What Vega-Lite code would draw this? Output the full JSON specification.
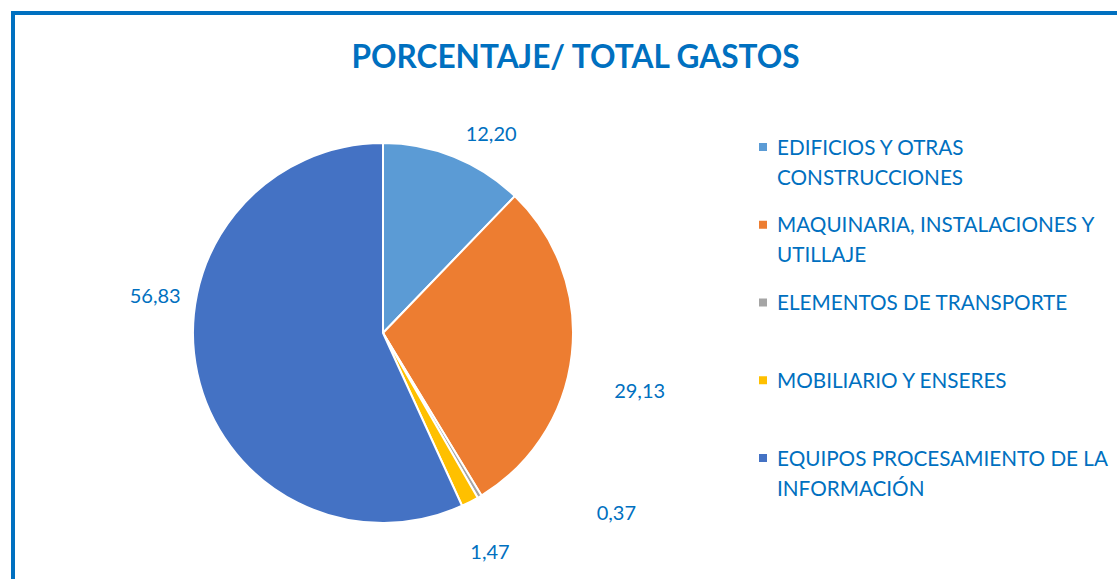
{
  "$schema": "https://vega.github.io/schema/vega-lite/v6.json",
  "autosize": {"type": "fit", "contains": "padding"},
  "width": 1117,
  "height": 579,
  "padding": {"left": 11, "top": 11, "right": 0, "bottom": 0},
  "background": "white",
  "title": {
    "text": "PORCENTAJE/ TOTAL GASTOS",
    "anchor": "middle",
    "dx": 11.5,
    "offset": -89,
    "baseline": "alphabetic",
    "font": "Lato",
    "fontSize": 31.6,
    "fontWeight": "bold",
    "color": "#0070C0"
  },
  "data": {
    "values": [
      {"orden": 1, "categoria": "EDIFICIOS Y OTRAS CONSTRUCCIONES", "etiqueta": "EDIFICIOS Y OTRAS\nCONSTRUCCIONES", "pct": 12.20},
      {"orden": 2, "categoria": "MAQUINARIA, INSTALACIONES Y UTILLAJE", "etiqueta": "MAQUINARIA, INSTALACIONES Y\nUTILLAJE", "pct": 29.13},
      {"orden": 3, "categoria": "ELEMENTOS DE TRANSPORTE", "etiqueta": "ELEMENTOS DE TRANSPORTE", "pct": 0.37},
      {"orden": 4, "categoria": "MOBILIARIO Y ENSERES", "etiqueta": "MOBILIARIO Y ENSERES", "pct": 1.47},
      {"orden": 5, "categoria": "EQUIPOS PROCESAMIENTO DE LA INFORMACIÓN", "etiqueta": "EQUIPOS PROCESAMIENTO DE LA\nINFORMACIÓN", "pct": 56.83}
    ]
  },
  "layer": [
    {
      "mark": {"type": "rect", "x": 2, "y": 2, "x2": 1150, "y2": 620, "clip": true, "filled": false, "stroke": "#0070C0", "strokeWidth": 3.5},
      "encoding": {}
    },
    {
      "mark": {"type": "arc", "outerRadius": 190, "x": 372, "y": 322, "stroke": "white", "strokeWidth": 2},
      "encoding": {
        "theta": {"field": "pct", "type": "quantitative", "stack": true},
        "order": {"field": "orden", "type": "quantitative", "sort": "ascending"},
        "color": {
          "field": "categoria",
          "type": "nominal",
          "scale": {
            "domain": ["EDIFICIOS Y OTRAS CONSTRUCCIONES", "MAQUINARIA, INSTALACIONES Y UTILLAJE", "ELEMENTOS DE TRANSPORTE", "MOBILIARIO Y ENSERES", "EQUIPOS PROCESAMIENTO DE LA INFORMACIÓN"],
            "range": ["#5B9BD5", "#ED7D31", "#A5A5A5", "#FFC000", "#4472C4"]
          },
          "legend": null
        }
      }
    },
    {
      "mark": {"type": "square", "size": 64, "filled": true, "opacity": 1, "x": 752},
      "encoding": {
        "y": {
          "field": "categoria",
          "type": "nominal",
          "scale": {
            "type": "point",
            "padding": 0,
            "domain": ["EDIFICIOS Y OTRAS CONSTRUCCIONES", "MAQUINARIA, INSTALACIONES Y UTILLAJE", "ELEMENTOS DE TRANSPORTE", "MOBILIARIO Y ENSERES", "EQUIPOS PROCESAMIENTO DE LA INFORMACIÓN"],
            "range": [136, 447]
          },
          "axis": null
        },
        "color": {"field": "categoria", "type": "nominal", "legend": null}
      }
    },
    {
      "mark": {"type": "text", "x": 766, "align": "left", "baseline": "alphabetic", "dy": 7.5, "lineBreak": "\n", "lineHeight": 30, "font": "Lato", "fontSize": 20.7, "color": "#0070C0"},
      "encoding": {
        "y": {"field": "categoria", "type": "nominal", "axis": null},
        "text": {"field": "etiqueta", "type": "nominal"}
      }
    },
    {
      "mark": {"type": "text", "radius": 225, "x": 372, "y": 322, "dx": 24, "dy": 11, "font": "Lato", "fontSize": 20, "color": "#0070C0"},
      "encoding": {
        "theta": {"field": "pct", "type": "quantitative", "stack": true},
        "order": {"field": "orden", "type": "quantitative", "sort": "ascending"},
        "text": {"condition": {"test": "datum.orden == 1", "field": "pct", "type": "quantitative", "format": ".2f"}, "value": ""}
      }
    },
    {
      "mark": {"type": "text", "radius": 225, "x": 372, "y": 322, "dx": 33, "dy": 34, "font": "Lato", "fontSize": 20, "color": "#0070C0"},
      "encoding": {
        "theta": {"field": "pct", "type": "quantitative", "stack": true},
        "order": {"field": "orden", "type": "quantitative", "sort": "ascending"},
        "text": {"condition": {"test": "datum.orden == 2", "field": "pct", "type": "quantitative", "format": ".2f"}, "value": ""}
      }
    },
    {
      "mark": {"type": "text", "radius": 225, "x": 372, "y": 322, "dx": 119, "dy": -13, "font": "Lato", "fontSize": 20, "color": "#0070C0"},
      "encoding": {
        "theta": {"field": "pct", "type": "quantitative", "stack": true},
        "order": {"field": "orden", "type": "quantitative", "sort": "ascending"},
        "text": {"condition": {"test": "datum.orden == 3", "field": "pct", "type": "quantitative", "format": ".2f"}, "value": ""}
      }
    },
    {
      "mark": {"type": "text", "radius": 225, "x": 372, "y": 322, "dx": 4, "dy": 20, "font": "Lato", "fontSize": 20, "color": "#0070C0"},
      "encoding": {
        "theta": {"field": "pct", "type": "quantitative", "stack": true},
        "order": {"field": "orden", "type": "quantitative", "sort": "ascending"},
        "text": {"condition": {"test": "datum.orden == 4", "field": "pct", "type": "quantitative", "format": ".2f"}, "value": ""}
      }
    },
    {
      "mark": {"type": "text", "radius": 225, "x": 372, "y": 322, "dx": -8, "dy": -84, "font": "Lato", "fontSize": 20, "color": "#0070C0"},
      "encoding": {
        "theta": {"field": "pct", "type": "quantitative", "stack": true},
        "order": {"field": "orden", "type": "quantitative", "sort": "ascending"},
        "text": {"condition": {"test": "datum.orden == 5", "field": "pct", "type": "quantitative", "format": ".2f"}, "value": ""}
      }
    }
  ],
  "config": {
    "view": {"stroke": null},
    "locale": {"number": {"decimal": ",", "thousands": ".", "grouping": [3], "currency": ["", " €"]}}
  }
}
